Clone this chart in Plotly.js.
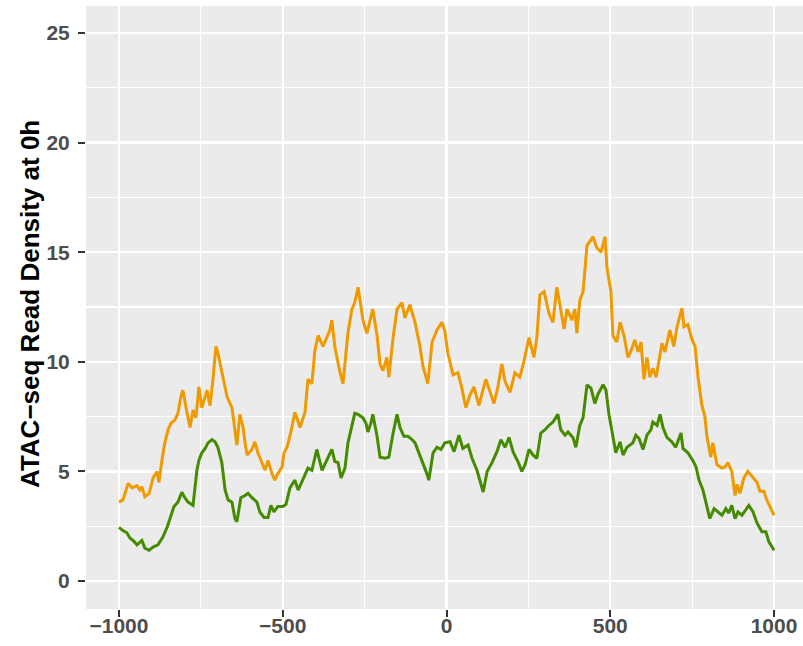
<!DOCTYPE html>
<html>
<head>
<meta charset="utf-8">
<script src="https://cdn.plot.ly/plotly-3.0.1.min.js"></script>
<style>html,body{margin:0;padding:0;background:#fff;}#chart{width:803px;height:646px;}</style>
</head>
<body>
<div id="chart"></div>
<script>
const orangeX = [-1000,-988,-972,-960,-945,-936,-930,-921,-908,-896,-884,-878,-869,-860,-850,-841,-829,-820,-811,-805,-792,-783,-774,-765,-756,-747,-731,-722,-713,-704,-698,-686,-676,-670,-655,-649,-640,-631,-621,-615,-609,-594,-585,-576,-563,-554,-545,-533,-524,-515,-502,-496,-487,-475,-463,-447,-432,-423,-411,-402,-392,-377,-356,-350,-341,-325,-316,-301,-289,-280,-270,-264,-255,-243,-234,-225,-212,-203,-194,-182,-176,-163,-151,-136,-127,-112,-96,-81,-72,-57,-44,-29,-14,-5,4,20,35,47,59,72,84,99,120,133,145,157,169,179,194,209,224,236,252,267,276,285,298,313,325,337,346,359,368,383,392,398,407,417,429,438,447,459,472,484,490,502,508,520,530,542,554,566,575,585,594,603,612,621,630,640,649,658,667,682,694,704,719,725,737,750,759,768,780,789,795,807,813,826,841,850,859,871,881,887,896,908,920,936,948,957,969,978,990,1000];
const orangeY = [3.6,3.7,4.45,4.25,4.35,4.15,4.3,3.85,4.0,4.7,5.0,4.5,5.5,6.3,6.9,7.2,7.35,7.65,8.4,8.7,7.65,7.0,7.8,7.45,8.85,7.9,8.7,8.0,9.2,10.7,10.4,9.5,8.9,8.4,7.9,7.2,6.2,7.6,7.0,6.3,5.75,6.0,6.35,5.85,5.4,5.05,5.5,4.9,4.6,4.9,5.2,5.85,6.1,6.8,7.7,7.0,7.7,9.2,9.0,10.5,11.2,10.7,11.45,11.9,10.7,9.5,9.0,11.3,12.4,12.7,13.4,12.7,11.9,11.3,11.9,12.4,11.2,9.9,9.6,10.2,9.3,11.1,12.4,12.7,12.0,12.6,11.8,10.7,9.8,9.0,10.9,11.45,11.8,11.4,10.4,9.4,9.5,8.8,7.9,8.5,8.85,8.0,9.2,8.6,8.1,8.85,9.9,9.1,8.6,9.5,9.3,10.0,11.1,10.2,11.1,13.05,13.2,12.2,11.8,13.4,12.6,11.5,12.4,11.9,12.4,11.3,12.8,13.2,15.3,15.5,15.7,15.2,15.0,15.7,14.3,13.2,11.2,10.9,11.8,11.2,10.2,10.6,11.0,10.45,10.9,9.2,10.2,9.3,9.7,9.3,10.0,10.85,10.45,11.45,10.7,11.6,12.45,11.6,11.7,11.0,10.7,9.3,8.0,7.5,6.6,5.65,6.3,5.3,5.15,5.2,5.4,5.0,3.9,4.4,4.0,4.7,5.0,4.7,4.5,4.1,4.1,3.7,3.3,3.0];

const greenX = [-1000,-988,-976,-966,-957,-945,-930,-921,-908,-896,-881,-866,-853,-841,-832,-820,-808,-799,-789,-774,-768,-762,-756,-747,-737,-728,-716,-707,-698,-686,-676,-667,-655,-646,-640,-628,-615,-606,-594,-579,-570,-557,-545,-536,-527,-515,-500,-490,-478,-463,-453,-432,-423,-411,-396,-380,-365,-350,-341,-331,-322,-310,-301,-289,-280,-270,-255,-246,-240,-231,-225,-212,-203,-188,-176,-163,-151,-142,-130,-118,-105,-96,-84,-72,-60,-54,-41,-29,-17,-5,11,23,38,50,66,78,93,112,124,139,154,166,179,191,203,218,230,240,252,264,276,288,301,313,325,340,349,362,371,386,395,407,417,429,441,453,462,478,487,496,508,517,530,539,551,569,578,588,600,612,624,630,643,652,661,673,688,700,716,722,737,752,762,771,783,792,804,817,829,841,853,862,871,881,890,902,914,923,936,948,963,975,984,1000];
const greenY = [2.45,2.3,2.2,1.95,1.85,1.65,1.85,1.5,1.4,1.55,1.65,2.0,2.45,3.0,3.4,3.6,4.05,3.8,3.6,3.45,4.25,5.05,5.5,5.85,6.05,6.3,6.45,6.35,6.1,5.4,4.15,3.7,3.6,2.85,2.7,3.8,3.9,4.0,3.8,3.6,3.15,2.9,2.9,3.45,3.15,3.4,3.4,3.5,4.25,4.6,4.15,4.9,5.15,5.05,6.0,5.05,5.5,6.0,5.45,5.4,4.7,5.15,6.3,7.0,7.65,7.6,7.45,7.2,6.8,7.2,7.6,6.6,5.65,5.6,5.65,6.75,7.6,7.0,6.6,6.6,6.45,6.3,5.85,5.4,4.9,4.6,5.85,6.1,6.0,6.3,6.35,5.9,6.65,6.05,6.2,5.6,5.05,4.06,5.0,5.4,5.9,6.45,6.1,6.55,5.9,5.45,5.0,5.3,6.0,5.75,5.6,6.75,6.9,7.1,7.25,7.6,6.9,6.65,6.8,6.55,6.1,7.1,7.45,8.95,8.8,8.1,8.5,8.95,8.7,7.6,6.55,5.85,6.35,5.75,6.1,6.3,6.65,6.5,6.0,6.65,6.9,7.25,7.1,7.6,7.0,6.55,6.35,6.1,6.75,6.05,5.85,5.5,5.2,4.6,4.15,3.55,2.85,3.3,3.15,3.0,3.3,3.1,3.45,2.85,3.15,3.0,3.25,3.45,3.15,2.65,2.25,2.25,1.8,1.4];

const xTickVals = [-1000,-500,0,500,1000];
const yTickVals = [0,5,10,15,20,25];
const yTitle = "ATAC\u2212seq Read Density at 0h";

const tickFont = {family: "Liberation Sans, Arial, sans-serif", size: 21, color: "#4D4D4D", weight: "bold"};

const traces = [
  {x: orangeX, y: orangeY, type: "scatter", mode: "lines", line: {color: "#EE9A00", width: 3}, hoverinfo: "skip"},
  {x: greenX, y: greenY, type: "scatter", mode: "lines", line: {color: "#458B00", width: 3}, hoverinfo: "skip"}
];

const layout = {
  width: 803, height: 646,
  margin: {l: 86, r: 0, t: 6, b: 37, pad: 0},
  paper_bgcolor: "#FFFFFF",
  plot_bgcolor: "#EBEBEB",
  showlegend: false,
  xaxis: {
    range: [-1100.7, 1088.5],
    tickvals: xTickVals,
    ticktext: xTickVals.map(v => v < 0 ? "\u2212" + Math.abs(v) : String(v)),
    showgrid: true, gridcolor: "#FFFFFF", gridwidth: 2.2,
    minor: {tickvals: [-750,-250,250,750], showgrid: true, gridcolor: "#FFFFFF", gridwidth: 1.1, ticks: ""},
    zeroline: false, showline: false,
    ticks: "outside", ticklen: 7, tickwidth: 2, tickcolor: "#333333",
    tickfont: tickFont, ticklabelstandoff: -9
  },
  yaxis: {
    range: [-1.277, 26.23],
    tickvals: yTickVals,
    showgrid: true, gridcolor: "#FFFFFF", gridwidth: 2.2,
    minor: {tickvals: [2.5,7.5,12.5,17.5,22.5], showgrid: true, gridcolor: "#FFFFFF", gridwidth: 1.1, ticks: ""},
    zeroline: false, showline: false,
    ticks: "outside", ticklen: 7, tickwidth: 2, tickcolor: "#333333",
    tickfont: tickFont, ticklabelstandoff: 4
  },
  annotations: [{
    text: yTitle, xref: "paper", yref: "paper",
    x: -0.078, y: 0.506, xanchor: "center", yanchor: "middle",
    textangle: -90, showarrow: false,
    font: {family: "Liberation Sans, Arial, sans-serif", size: 26, color: "#000000", weight: "bold"}
  }]
};

Plotly.newPlot("chart", traces, layout, {staticPlot: true, displayModeBar: false});
</script>
</body>
</html>
